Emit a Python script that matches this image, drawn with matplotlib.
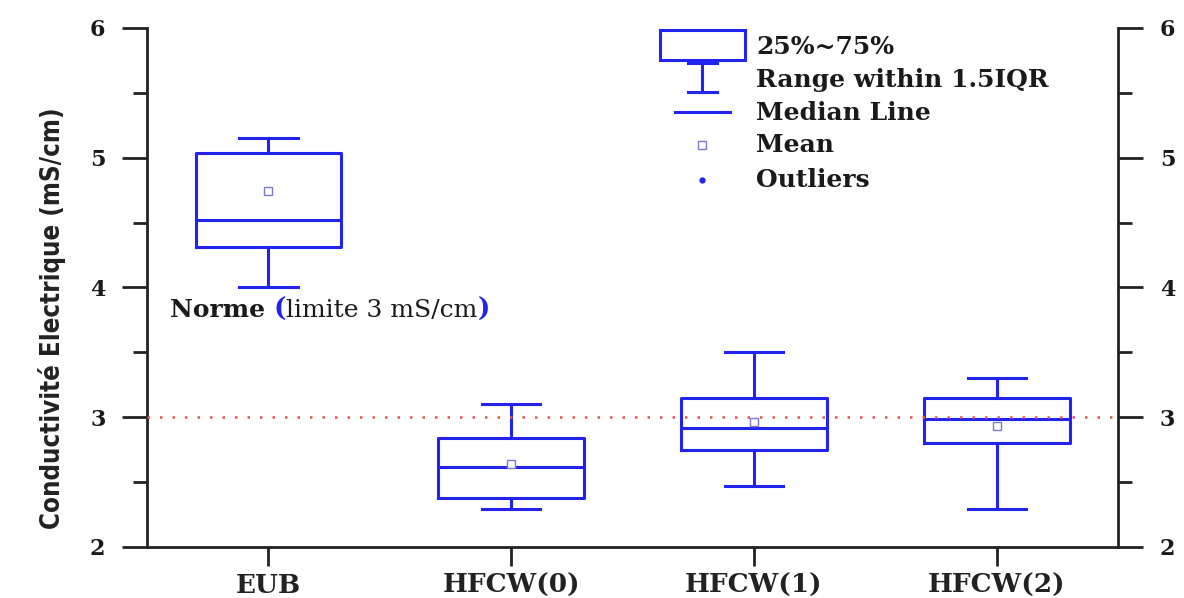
import matplotlib
matplotlib.use('Agg')
import matplotlib.pyplot as plt
from matplotlib.patches import Rectangle
from matplotlib.lines import Line2D

# data
groups = ['EUB', 'HFCW(0)', 'HFCW(1)', 'HFCW(2)']
whislo = [4.00, 2.29, 2.47, 2.29]
q1 = [4.31, 2.38, 2.75, 2.80]
med = [4.52, 2.62, 2.92, 2.99]
q3 = [5.04, 2.84, 3.15, 3.15]
whishi = [5.15, 3.10, 3.50, 3.30]
means = [4.74, 2.64, 2.96, 2.93]
norme = 3.0

blue = '#2323f0'
dark = '#1a1a1a'
serif = ['DejaVu Serif']

fig = plt.figure(figsize=(11.84, 5.98), dpi=100)
ax = fig.add_axes([0.1242, 0.0853, 0.8201, 0.8679])

stats = []
for i in range(len(groups)):
    stats.append(dict(label=groups[i], whislo=whislo[i], q1=q1[i], med=med[i],
                      q3=q3[i], whishi=whishi[i], mean=means[i], fliers=[]))

lw = 2.2
ax.bxp(stats, positions=range(1, len(groups) + 1), widths=0.6, capwidths=0.24,
       showmeans=True, patch_artist=False,
       boxprops=dict(color=blue, linewidth=lw),
       whiskerprops=dict(color=blue, linewidth=lw),
       capprops=dict(color=blue, linewidth=lw),
       medianprops=dict(color=blue, linewidth=lw),
       meanprops=dict(marker='s', markersize=6, markerfacecolor='white',
                      markeredgecolor='#7a7ad0', markeredgewidth=1.0))

ax.axhline(norme, color='#e05555', linestyle=(0, (1, 4)), linewidth=1.8, zorder=5)

ax.set_xlim(0.5, len(groups) + 0.5)
ax.set_ylim(2, 6)
ax.set_yticks([2, 3, 4, 5, 6])
ax.set_yticks([2.5, 3.5, 4.5, 5.5], minor=True)
ax.set_xticks(range(1, len(groups) + 1))
ax.set_xticklabels(groups, fontsize=19, fontweight='bold', family=serif, color=dark)

ax.spines['top'].set_visible(False)
for s in ['left', 'right', 'bottom']:
    ax.spines[s].set_linewidth(2)
    ax.spines[s].set_color('#222222')

ax.tick_params(axis='y', which='major', direction='out', length=18, width=2,
               left=True, right=True, labelleft=True, labelright=True, pad=12,
               colors='#222222')
ax.tick_params(axis='y', which='minor', direction='out', length=10, width=2,
               left=True, right=True, colors='#222222')
ax.tick_params(axis='x', which='major', direction='out', length=14, width=2,
               pad=5, colors='#222222')
for t in ax.yaxis.get_major_ticks():
    for lab in (t.label1, t.label2):
        lab.set_fontweight('bold')
        lab.set_family(serif)
        lab.set_fontsize(16)
        lab.set_color(dark)

ax.set_ylabel('Conductivité Electrique (mS/cm)', fontsize=18.5,
              family=['DejaVu Sans'], fontstretch='condensed', fontweight='bold',
              color='#222222')
ax.yaxis.set_label_coords(-0.083, 0.44)

# norme text
t1 = ax.text(0.595, 3.83, 'Norme ', fontsize=18, fontweight='bold',
             family=serif, va='center', color=dark)
t2 = ax.annotate('(', xy=(1, 0), xycoords=t1, va='bottom', fontsize=19,
                 fontweight='bold', family=serif, color=blue)
t3 = ax.annotate('limite 3 mS/cm', xy=(1, 0), xycoords=t2, va='bottom',
                 fontsize=18, family=serif, color=dark)
ax.annotate(')', xy=(1, 0), xycoords=t3, va='bottom', fontsize=19,
            fontweight='bold', family=serif, color=blue)

# hand-made legend (axes fraction)
tr = ax.transAxes
ax.add_patch(Rectangle((0.528, 0.938), 0.088, 0.058, fill=False, edgecolor=blue,
                       linewidth=lw, transform=tr, clip_on=False))
xc = 0.572
ax.add_artist(Line2D([0.557, 0.587], [0.932, 0.932], color=blue, lw=lw, transform=tr))
ax.add_artist(Line2D([xc, xc], [0.932, 0.877], color=blue, lw=lw, transform=tr))
ax.add_artist(Line2D([0.557, 0.587], [0.877, 0.877], color=blue, lw=lw, transform=tr))
ax.add_artist(Line2D([0.544, 0.600], [0.838, 0.838], color=blue, lw=lw, transform=tr))
ax.add_artist(Line2D([xc], [0.774], marker='s', markersize=6, markerfacecolor='white',
                     markeredgecolor='#7a7ad0', markeredgewidth=1.0, transform=tr))
ax.add_artist(Line2D([xc], [0.707], marker='o', markersize=3.5, color=blue,
                     transform=tr))
leg_labels = ['25%~75%', 'Range within 1.5IQR', 'Median Line', 'Mean', 'Outliers']
leg_y = [0.963, 0.899, 0.836, 0.774, 0.707]
for lab, yy in zip(leg_labels, leg_y):
    ax.text(0.627, yy, lab, transform=tr, fontsize=18, fontweight='bold',
            family=serif, va='center', color=dark)

fig.savefig('out.png', dpi=100)
